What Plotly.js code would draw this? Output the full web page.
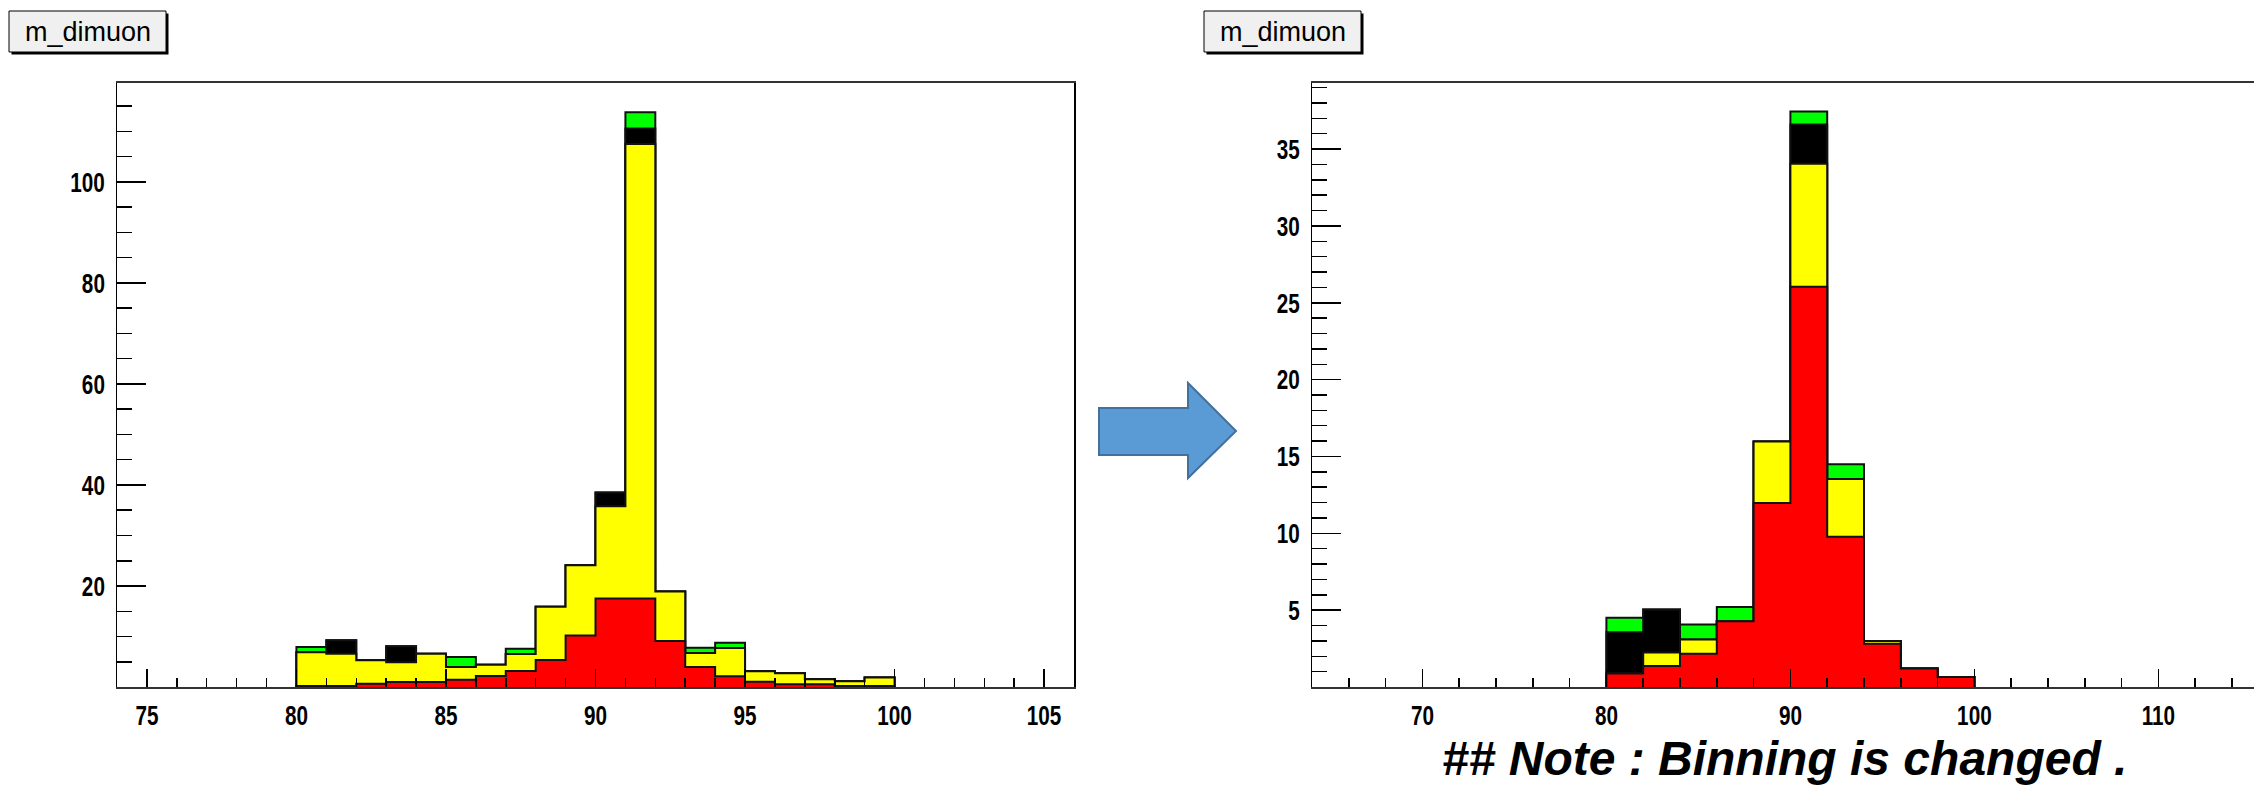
<!DOCTYPE html>
<html><head><meta charset="utf-8">
<script src="https://cdn.plot.ly/plotly-3.0.1.min.js"></script>
<style>html,body{margin:0;padding:0;background:#fff;overflow:hidden;} #chart{width:2254px;height:785px;}</style>
</head><body><div id="chart"></div>
<script>
const W = 2254, H = 785;

// ---- Left histogram stack (bin width 1, 80..100) ----
const leftEdges  = [80,81,82,83,84,85,86,87,88,89,90,91,92,93,94,95,96,97,98,99,100];
const leftRed    = [0.2,0.2,0.66,0.99,0.99,1.45,2.18,3.17,5.35,10.2,17.5,17.5,9.1,3.96,2.11,1.06,0.53,0.53,0.2,0.2];
const leftYellow = [6.7,6.4,4.62,3.89,5.61,2.51,2.24,3.36,10.55,13.9,18.3,90.0,9.8,2.77,5.61,2.04,2.17,0.99,0.92,1.7];
const leftBlack  = [0,2.64,0,3.17,0,0,0,0,0,0,2.7,3.1,0,0,0,0,0,0,0,0];
const leftGreen  = [1.0,0,0,0,0,2.0,0,1.06,0,0,0,3.2,0,1.06,1.06,0,0,0,0,0];

// ---- Right histogram stack (bin width 2, 80..100) ----
const rightEdges  = [80,82,84,86,88,90,92,94,96,98,100];
const rightRed    = [0.88,1.36,2.16,4.28,11.97,26.04,9.78,2.82,1.21,0.65];
const rightYellow = [0,0.89,0.93,0,4.0,8.01,3.75,0.17,0,0];
const rightBlack  = [2.69,2.79,0,0,0,2.55,0,0,0,0];
const rightGreen  = [0.93,0,0.98,0.93,0,0.84,0.97,0,0,0];

// ---- Tick labels ----
const leftXTicks  = [75,80,85,90,95,100,105];
const leftYTicks  = [20,40,60,80,100];
const rightXTicks = [70,80,90,100,110];
const rightYTicks = [5,10,15,20,25,30,35];

const titleText = 'm_dimuon';
const noteText  = '## Note : Binning is changed .';

const seriesColors = ['#ff0000','#ffff00','#000000','#00ff00'];

function cumulate(list){
  const out = []; let acc = list[0].map(()=>0);
  list.forEach(a => { acc = acc.map((v,i)=>v + a[i]); out.push(acc.slice()); });
  return out;
}
function stepTrace(edges, vals, color, xa, ya){
  const xs = [edges[0]], ys = [0];
  for (let i=0;i<vals.length;i++){ xs.push(edges[i]); ys.push(vals[i]); }
  xs.push(edges[vals.length]); ys.push(vals[vals.length-1]);
  xs.push(edges[vals.length]); ys.push(0);
  return {type:'scatter', mode:'lines', x:xs, y:ys, xaxis:xa, yaxis:ya,
    line:{shape:'hv', color:'#111', width:2}, fill:'tozeroy', fillcolor:color,
    hoverinfo:'skip', showlegend:false};
}
function stackTraces(edges, comps, xa, ya){
  const cum = cumulate(comps);
  const tr = [];
  for (let k=cum.length-1;k>=0;k--) tr.push(stepTrace(edges, cum[k], seriesColors[k], xa, ya));
  return tr;
}

const data = [
  ...stackTraces(leftEdges, [leftRed,leftYellow,leftBlack,leftGreen], 'x', 'y'),
  ...stackTraces(rightEdges, [rightRed,rightYellow,rightBlack,rightGreen], 'x2', 'y2')
];

const tickFont = {family:"'Liberation Sans',Arial,Helvetica,sans-serif", size:28, color:'#000', weight:700};
const yDom = [(H-687)/H, (H-83)/H];

function xAxis(dom, range, ticks, minorD, anchor){
  return {domain:dom, range:range, anchor:anchor, tickmode:'array', tickvals:ticks,
    ticks:'inside', ticklen:18, tickwidth:1.5, tickcolor:'#000',
    minor:{tick0:0, dtick:minorD, ticks:'inside', ticklen:9, tickwidth:1.5, tickcolor:'#000', showgrid:false},
    showline:true, linecolor:'#333', linewidth:2, mirror:true,
    showgrid:false, zeroline:false, layer:'above traces', tickfont:tickFont, ticklabelstandoff:2, fixedrange:true};
}
function yAxis(range, ticks, minorD, anchor, mirror){
  return {domain:yDom, range:range, anchor:anchor, tickmode:'array', tickvals:ticks,
    ticks:'inside', ticklen:29, tickwidth:1.5, tickcolor:'#000',
    minor:{tick0:0, dtick:minorD, ticks:'inside', ticklen:15, tickwidth:1.5, tickcolor:'#000', showgrid:false},
    showline:true, linecolor:'#000', linewidth:1.5, mirror:mirror,
    showgrid:false, zeroline:false, layer:'above traces', tickfont:tickFont, ticklabelstandoff:5, fixedrange:true};
}

function px(x){return x/W;} function py(y){return 1-y/H;}
function titleBox(x0,y0,x1,y1){
  return [
    {type:'rect', xref:'paper', yref:'paper', x0:px(x0+2.5), x1:px(x1+2.5), y0:py(y0+2.5), y1:py(y1+2.5), fillcolor:'#000', line:{width:0}},
    {type:'rect', xref:'paper', yref:'paper', x0:px(x0), x1:px(x1), y0:py(y0), y1:py(y1), fillcolor:'#f0f0f0', line:{color:'#000', width:1}}
  ];
}
const arrowPts = [[1099,408],[1188,408],[1188,383],[1236,431],[1188,478],[1188,455],[1099,455]];
const arrowPath = 'M ' + arrowPts.map(p=>px(p[0]).toFixed(5)+','+py(p[1]).toFixed(5)).join(' L ') + ' Z';

const layout = {
  width:W, height:H, autosize:false,
  margin:{l:0,r:0,t:0,b:0},
  paper_bgcolor:'#fff', plot_bgcolor:'#fff',
  showlegend:false,
  xaxis:  xAxis([117/W, 1074/W], [74,106], leftXTicks, 1, 'y'),
  yaxis:  yAxis([0,119.6], leftYTicks, 5, 'x', true),
  xaxis2: xAxis([1312/W, 1], [64, 64+942/18.4], rightXTicks, 2, 'y2'),
  yaxis2: yAxis([0,39.3], rightYTicks, 1, 'x2', false),
  shapes: [
    ...titleBox(9,11,166,52),
    ...titleBox(1204,11,1361,52),
    {type:'path', xref:'paper', yref:'paper', path:arrowPath, fillcolor:'#5b9bd5', line:{color:'#41719c', width:2}}
  ],
  annotations: [
    {xref:'paper', yref:'paper', x:px(87.5), y:py(32), xanchor:'center', yanchor:'middle', showarrow:false,
     text:titleText, font:{family:"'Liberation Sans',Arial,sans-serif", size:27, color:'#000'}},
    {xref:'paper', yref:'paper', x:px(1282.5), y:py(32), xanchor:'center', yanchor:'middle', showarrow:false,
     text:titleText, font:{family:"'Liberation Sans',Arial,sans-serif", size:27, color:'#000'}},
    {xref:'paper', yref:'paper', x:px(1440), y:py(758), xanchor:'left', yanchor:'middle', showarrow:false,
     text:noteText, font:{family:"'Liberation Sans',Arial,sans-serif", size:48, color:'#000', weight:700, style:'italic'}}
  ]
};

Plotly.newPlot('chart', data, layout, {staticPlot:true, displayModeBar:false}).then(gd => {
  // ROOT's axis labels are a narrow bold face: compress each tick label horizontally about its own anchor point
  const s = 0.74;
  gd.querySelectorAll('.xaxislayer-above text, .yaxislayer-above text').forEach(t => {
    const tr = t.getAttribute('transform') || '';
    const ax = parseFloat(t.getAttribute('x') || '0') || 0;
    t.setAttribute('transform', tr + ' translate(' + ax + ',0) scale(' + s + ',1) translate(' + (-ax) + ',0)');
  });
});
</script>
</body></html>
